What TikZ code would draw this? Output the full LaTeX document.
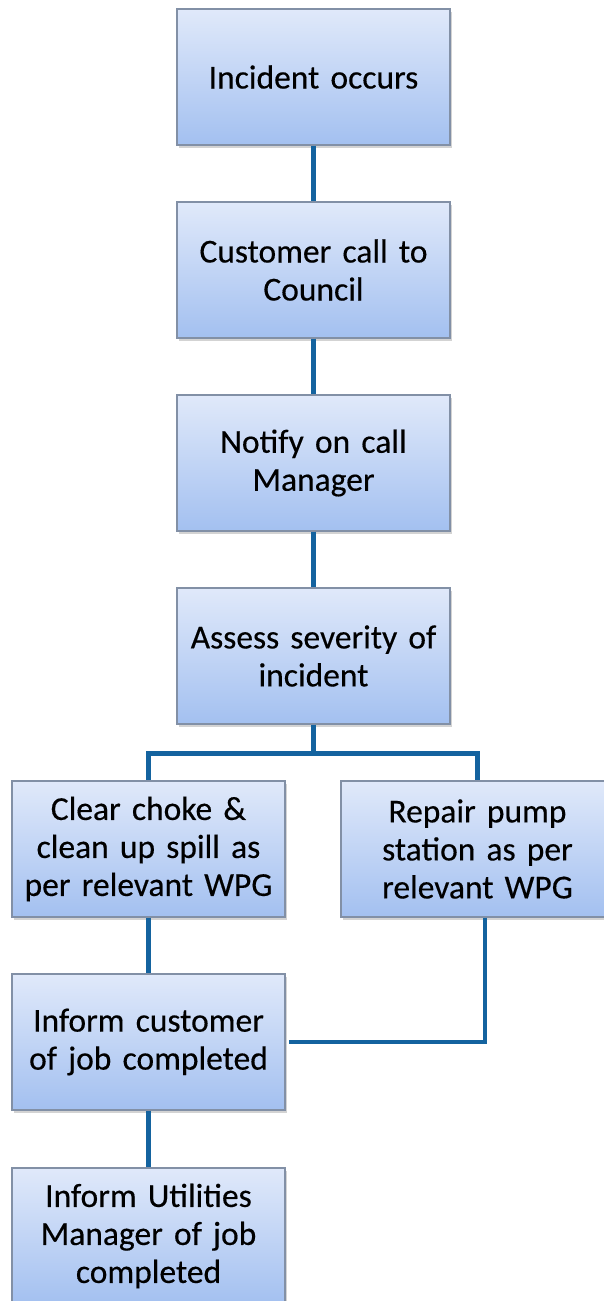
\documentclass[tikz,border=0pt]{standalone}
\usepackage{fontspec}
\setmainfont{Carlito}[BoldFont=Carlito, BoldFeatures={FakeBold=0.35}]
\usetikzlibrary{shadows,calc}
\definecolor{boxtop}{HTML}{E0E9FA}
\definecolor{boxbot}{HTML}{A3C0F0}
\definecolor{boxedge}{HTML}{8290A6}
\definecolor{linkblue}{HTML}{14639F}
\tikzset{
  stepbox/.style={rectangle, draw=boxedge, line width=1.2pt,
    top color=boxtop, bottom color=boxbot,
    minimum width=273pt, minimum height=136pt, text width=270pt,
    align=center, inner sep=0pt,
    font=\fontsize{33.5}{38}\selectfont\bfseries,
    drop shadow={opacity=0.35, shadow xshift=1.5pt, shadow yshift=-2.5pt}},
  link/.style={draw=linkblue, line width=4.5pt}
}
\begin{document}
\begin{tikzpicture}[x=1pt,y=-1pt]
\useasboundingbox (0,0) rectangle (604,1301);
\clip (0,0) rectangle (604,1301);
\node[stepbox] (b1) at (313.5,77) {Incident occurs};
\node[stepbox] (b2) at (313.5,270) {Customer call to\\Council};
\node[stepbox] (b3) at (313.5,463) {Notify on call\\Manager};
\node[stepbox] (b4) at (313.5,656) {Assess severity of\\incident};
\node[stepbox] (b5) at (148.5,849) {Clear choke \&\\clean up spill as\\per relevant WPG};
\node[stepbox] (b6) at (477.5,849) {Repair pump\\station as per\\relevant WPG};
\node[stepbox] (b7) at (148.5,1042) {Inform customer\\of job completed};
\node[stepbox] (b8) at (148.5,1236) {Inform Utilities\\Manager of job\\completed};
\coordinate (split) at ($(b4.south)+(0,29)$);
\coordinate (rtop) at ($(b6.south)+(7.5,0)$);
\coordinate (rcorner) at (rtop |- b7.east);
\coordinate (rend) at ($(b7.east)+(3,0)$);
\draw[link] (b1.south) -- (b2.north);
\draw[link] (b2.south) -- (b3.north);
\draw[link] (b3.south) -- (b4.north);
\draw[link] (b4.south) -- (split);
\draw[link] (split) -| (b5.north);
\draw[link] (split) -| (b6.north);
\draw[link] (b5.south) -- (b7.north);
\draw[link] (rtop) -- (rcorner) -- (rend);
\draw[link] (b7.south) -- (b8.north);
\end{tikzpicture}
\end{document}
